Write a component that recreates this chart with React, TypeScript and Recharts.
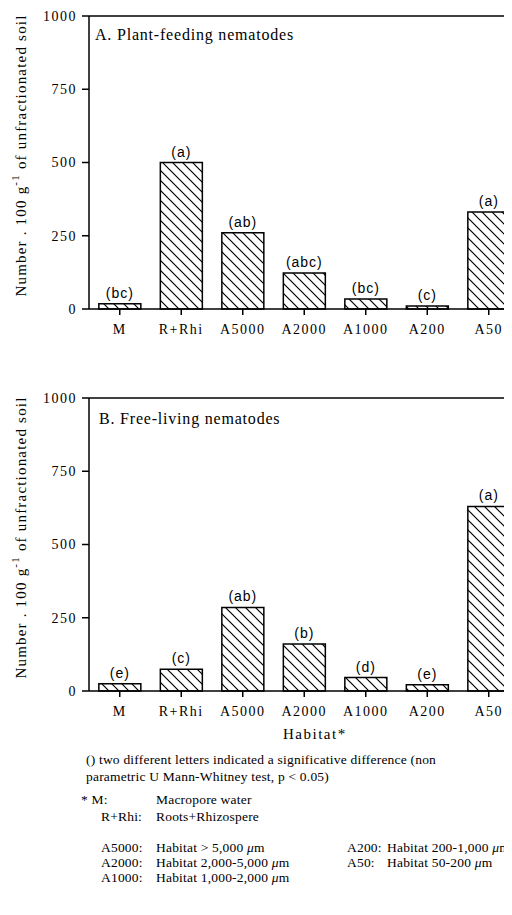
import React from 'react';
import { BarChart, Bar, XAxis, YAxis, LabelList, ReferenceLine, Label } from 'recharts';

const categories = ['M', 'R+Rhi', 'A5000', 'A2000', 'A1000', 'A200', 'A50'];
const plantFeeding = [18, 500, 260, 123, 34, 10, 331];
const plantLetters = ['(bc)', '(a)', '(ab)', '(abc)', '(bc)', '(c)', '(a)'];
const freeLiving = [25, 74, 285, 160, 46, 21, 630];
const freeLetters = ['(e)', '(c)', '(ab)', '(b)', '(d)', '(e)', '(a)'];
const yTicks = [0, 250, 500, 750, 1000];

const SERIF = '"Liberation Serif", "Times New Roman", serif';
const SANS = '"Liberation Sans", Arial, sans-serif';

const XTick = (p: any) => (
  <text x={p.x} y={p.y} dy="0.71em" textAnchor="middle" fill="#000"
    fontFamily={SERIF} fontSize={14} letterSpacing={1.5}>
    {p.payload.value}
  </text>
);

const YTick = (p: any) => (
  <text x={p.x} y={p.y} dy="0.35em" textAnchor="end" fill="#000"
    fontFamily={SERIF} fontSize={14} letterSpacing={1.5}>
    {p.payload.value}
  </text>
);

const YLabel = (p: any) => {
  const vb = p.viewBox || {};
  const cx = 21;
  const cy = Number(vb.y) + Number(vb.height) / 2 - 7;
  return (
    <text x={cx} y={cy} transform={`rotate(-90, ${cx}, ${cy})`} textAnchor="middle"
      dominantBaseline="central" fill="#000" fontFamily={SERIF} fontSize={15} letterSpacing={1.2}>
      Number . 100 g<tspan dy={-6} fontSize={11}>-1</tspan>
      <tspan dy={6}> of unfractionated soil</tspan>
    </text>
  );
};

const Letter = (p: any) => {
  const x = Number(p.x) + Number(p.width) / 2;
  const y = Number(p.y) - 6;
  return (
    <text x={x} y={y} textAnchor="middle" fill="#000" fontFamily={SANS} fontSize={14} letterSpacing={1}>
      {p.value}
    </text>
  );
};

interface PanelProps {
  values: number[];
  letters: string[];
  id: string;
}

const Panel: React.FC<PanelProps> = ({ values, letters, id }) => {
  const data = categories.map((name, i) => ({ name, value: values[i], letter: letters[i] }));
  return (
    <BarChart width={530} height={339} data={data} barCategoryGap="16%"
      margin={{ top: 16, right: 10.5, left: 0, bottom: 0 }}>
      <defs>
        <pattern id={id} patternUnits="userSpaceOnUse" width={10} height={10}>
          <rect width={10} height={10} fill="#fff" />
          <path d="M-2,-2 L12,12 M-2,8 L2,12 M8,-2 L12,2" stroke="#000" strokeWidth={1.2} />
        </pattern>
      </defs>
      <XAxis dataKey="name" tick={<XTick />} tickSize={6} tickMargin={9} height={30}
        axisLine={{ stroke: '#000', strokeWidth: 1.5 }} tickLine={{ stroke: '#000', strokeWidth: 1.5 }} />
      <YAxis domain={[0, 1000]} ticks={yTicks} width={89} tick={<YTick />} tickSize={7} tickMargin={5}
        axisLine={{ stroke: '#000', strokeWidth: 1.5 }} tickLine={{ stroke: '#000', strokeWidth: 1.5 }}>
        <Label content={<YLabel />} />
      </YAxis>
      <ReferenceLine y={1000} stroke="#000" strokeWidth={1.5} />
      <Bar dataKey="value" fill={`url(#${id})`} stroke="#000" strokeWidth={1.5} isAnimationActive={false}>
        <LabelList dataKey="letter" content={<Letter />} />
      </Bar>
    </BarChart>
  );
};

const txt = (top: number, left: number, size: number, extra: React.CSSProperties = {}): React.CSSProperties => ({
  position: 'absolute', top, left, fontSize: size, lineHeight: 1, fontFamily: SERIF,
  whiteSpace: 'nowrap', color: '#000', ...extra,
});

const App: React.FC = () => {
  const fs = 13.5;
  const b = (baseline: number) => baseline - 0.8375 * fs;
  const ft = (baseline: number, left: number) => txt(b(baseline), left, fs, { letterSpacing: 0.2 });
  return (
    <div style={{ position: 'relative', width: 512, height: 915, margin: -8, overflow: 'hidden', background: '#fff' }}>
      <div style={{ position: 'absolute', top: 0, left: 0 }}>
        <Panel values={plantFeeding} letters={plantLetters} id="hatchA" />
      </div>
      <div style={{ position: 'absolute', top: 382, left: 0 }}>
        <Panel values={freeLiving} letters={freeLetters} id="hatchB" />
      </div>
      <div style={txt(40 - 0.8375 * 16, 95, 16, { letterSpacing: 0.8 })}>A. Plant-feeding nematodes</div>
      <div style={txt(424 - 0.8375 * 16, 99, 16, { letterSpacing: 0.8 })}>B. Free-living nematodes</div>

      <div style={txt(740 - 0.8375 * 15, 283, 15, { letterSpacing: 1.5 })}>Habitat*</div>
      <div style={ft(764, 86)}>() two different letters indicated a significative difference (non</div>
      <div style={ft(781, 86)}>parametric U Mann-Whitney test, p &lt; 0.05)</div>

      <div style={ft(804, 81)}>* M:</div>
      <div style={ft(804, 156)}>Macropore water</div>
      <div style={ft(821, 101)}>R+Rhi:</div>
      <div style={ft(821, 156)}>Roots+Rhizospere</div>

      <div style={ft(852, 101)}>A5000:</div>
      <div style={ft(852, 156)}>Habitat &gt; 5,000 <i>μ</i>m</div>
      <div style={ft(867, 101)}>A2000:</div>
      <div style={ft(867, 156)}>Habitat 2,000-5,000 <i>μ</i>m</div>
      <div style={ft(882, 101)}>A1000:</div>
      <div style={ft(882, 156)}>Habitat 1,000-2,000 <i>μ</i>m</div>

      <div style={ft(852, 347)}>A200:</div>
      <div style={ft(852, 387)}>Habitat 200-1,000 <i>μ</i>m</div>
      <div style={ft(867, 347)}>A50:</div>
      <div style={ft(867, 387)}>Habitat 50-200 <i>μ</i>m</div>
    </div>
  );
};

export default App;
